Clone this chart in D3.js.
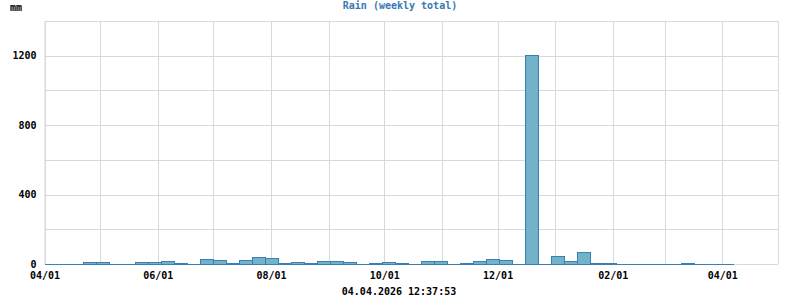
<!DOCTYPE html>
<html>
<head>
<meta charset="utf-8">
<script src="https://cdn.jsdelivr.net/npm/d3@7"></script>
<style>
  body { margin: 0; background: #fff; }
  text { font-family: "DejaVu Sans Mono", monospace; font-weight: bold; font-size: 10px; }
</style>
</head>
<body>
<div id="root"></div>
<script>
// Weekly rain totals (mm), weeks starting 2025-04-01
var firstWeek = "2025-04-01";
var rainValues = [0, 0, 0, 10, 10, 0, 0, 10, 10, 15,
                  5, 0, 27, 21, 4, 21, 38, 33, 5, 10,
                  5, 15, 15, 10, 0, 4, 10, 4, 0, 15,
                  15, 0, 3, 15, 27, 21, 0, 1205, 0, 46,
                  15, 67, 3, 3, 0, 0, 0, 0, 0, 4,
                  0, 0, 0];
var yTicks = [0, 400, 800, 1200];
var yGrid = [200, 400, 600, 800, 1000, 1200, 1400];
var xDomain = ["2025-04-01", "2026-05-01"];
var xTickDates = ["2025-04-01", "2025-06-01", "2025-08-01", "2025-10-01", "2025-12-01", "2026-02-01", "2026-04-01"];
var titleText = "Rain (weekly total)";
var unitText = "mm";
var stampText = "04.04.2026 12:37:53";

var width = 800, height = 300;
var margin = {top: 21, right: 22, bottom: 36, left: 44.5};

var svg = d3.select("#root")
            .append("svg")
            .attr("width", width)
            .attr("height", height);

var parse = d3.utcParse("%Y-%m-%d");
var start = parse(firstWeek);
var weeks = rainValues.map(function(v, i) {
  return {start: d3.utcDay.offset(start, i * 7), end: d3.utcDay.offset(start, (i + 1) * 7), value: v};
});

// Scales
var x = d3.scaleUtc()
          .domain(xDomain.map(parse))
          .range([margin.left, width - margin.right]);

var y = d3.scaleLinear()
          .domain([0, 1400])
          .range([height - margin.bottom, margin.top]);

// Grid
svg.append("g")
   .selectAll("line")
   .data(yGrid)
   .enter().append("line")
   .attr("x1", margin.left)
   .attr("x2", width - margin.right)
   .attr("y1", function(d) { return Math.round(y(d)) + 0.5; })
   .attr("y2", function(d) { return Math.round(y(d)) + 0.5; })
   .attr("stroke", "#d9d9d9");

var months = d3.utcMonth.range(x.domain()[0], d3.utcDay.offset(x.domain()[1], 1));
svg.append("g")
   .selectAll("line")
   .data(months)
   .enter().append("line")
   .attr("x1", function(d) { return Math.round(x(d)) + 0.5; })
   .attr("x2", function(d) { return Math.round(x(d)) + 0.5; })
   .attr("y1", y(1400))
   .attr("y2", y(0))
   .attr("stroke", "#d9d9d9");

// Bottom frame line
svg.append("line")
   .attr("x1", margin.left)
   .attr("x2", width - margin.right)
   .attr("y1", Math.round(y(0)) + 0.5)
   .attr("y2", Math.round(y(0)) + 0.5)
   .attr("stroke", "#d9d9d9");

// Bars
svg.append("g")
   .selectAll("rect")
   .data(weeks)
   .enter().append("rect")
   .attr("x", function(d) { return Math.round(x(d.start)) + 0.5; })
   .attr("width", function(d) { return Math.round(x(d.end)) - Math.round(x(d.start)); })
   .attr("y", function(d) { return Math.round(y(d.value)) + 0.5; })
   .attr("height", function(d) { return Math.round(y(0)) - Math.round(y(d.value)); })
   .attr("fill", "#73b3c9")
   .attr("stroke", "#3b7fb7");

// Series baseline
svg.append("line")
   .attr("x1", Math.round(x(weeks[0].start)))
   .attr("x2", Math.round(x(weeks[weeks.length - 1].end)) + 1)
   .attr("y1", Math.round(y(0)) + 0.5)
   .attr("y2", Math.round(y(0)) + 0.5)
   .attr("stroke", "#3b7fb7");

// Y axis
var yAxis = svg.append("g")
               .attr("transform", "translate(" + margin.left + ",0)")
               .call(d3.axisLeft(y).tickValues(yTicks).tickFormat(d3.format("d")).tickSize(0).tickPadding(8));
yAxis.select(".domain").attr("stroke", "#d9d9d9");
yAxis.selectAll("text")
     .attr("fill", "#000")
     .style("font-family", "DejaVu Sans Mono, monospace")
     .style("font-weight", "bold")
     .style("font-size", "10px");

// X axis
var xAxis = svg.append("g")
               .attr("transform", "translate(0," + y(0) + ")")
               .call(d3.axisBottom(x).tickValues(xTickDates.map(parse)).tickFormat(d3.utcFormat("%m/%d")).tickSize(0).tickPadding(8));
xAxis.select(".domain").remove();
xAxis.selectAll("text")
     .attr("fill", "#000")
     .style("font-family", "DejaVu Sans Mono, monospace")
     .style("font-weight", "bold")
     .style("font-size", "10px");

// Right frame line
svg.append("line")
   .attr("x1", width - margin.right + 0.5)
   .attr("x2", width - margin.right + 0.5)
   .attr("y1", y(1400))
   .attr("y2", y(0))
   .attr("stroke", "#d9d9d9");

// Titles
svg.append("text")
   .attr("x", 10)
   .attr("y", 11)
   .attr("fill", "#000")
   .text(unitText);

svg.append("text")
   .attr("x", 400)
   .attr("y", 9)
   .attr("text-anchor", "middle")
   .attr("fill", "#3a78b4")
   .text(titleText);

svg.append("text")
   .attr("x", 399)
   .attr("y", 295)
   .attr("text-anchor", "middle")
   .attr("fill", "#000")
   .text(stampText);
</script>
</body>
</html>
